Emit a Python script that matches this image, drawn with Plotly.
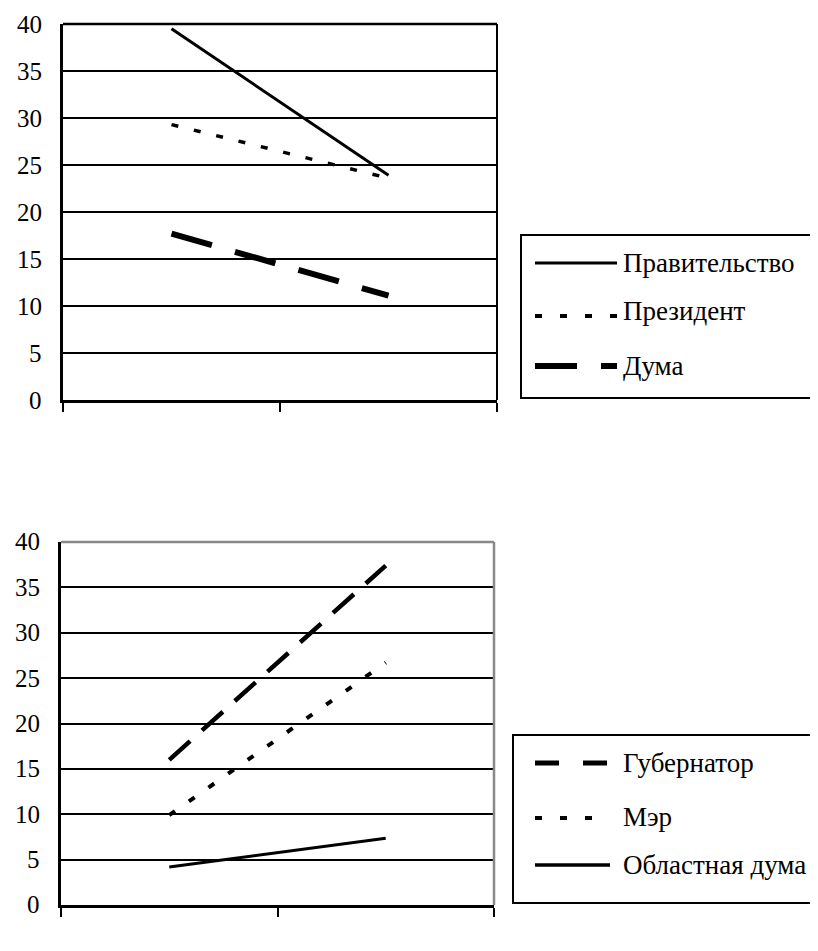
import plotly.graph_objects as go

years = ["1995", "1999"]

# top chart
top_names = ["Правительство", "Президент", "Дума"]
pravitelstvo = [39.5, 23.9]
prezident = [29.3, 23.6]
duma = [17.7, 11.1]

# bottom chart
bottom_names = ["Губернатор", "Мэр", "Областная дума"]
gubernator = [16.0, 37.4]
mer = [9.9, 26.7]
obl_duma = [4.2, 7.35]

y_ticks = [0, 5, 10, 15, 20, 25, 30, 35, 40]

FONT = "Liberation Serif"

# line styles (width, dash)
styles_top = [(3, "solid"), (3.5, "7px,16px"), (6, "42px,24px")]
styles_bot = [(4.5, "28px,16px"), (4, "7px,17px"), (3, "solid")]
legend_styles_top = [(3, "solid"), (4, "7px,18px"), (6, "42px,24px")]
legend_styles_bot = [(5, "24px,24px"), (4, "7px,18px"), (3.5, "solid")]

fig = go.Figure()

for name, vals, (w, d) in zip(top_names, [pravitelstvo, prezident, duma], styles_top):
    fig.add_trace(go.Scatter(x=years, y=vals, name=name, mode="lines", showlegend=False,
                             line=dict(color="black", width=w, dash=d), xaxis="x", yaxis="y"))
for name, vals, (w, d) in zip(bottom_names, [gubernator, mer, obl_duma], styles_bot):
    fig.add_trace(go.Scatter(x=years, y=vals, name=name, mode="lines", showlegend=False,
                             line=dict(color="black", width=w, dash=d), xaxis="x2", yaxis="y2"))

OFF = 8  # page body margin
W, H = 818 - OFF, 951 - OFF
ml, mr, mt, mb = 61 - OFF, 818 - 497, 24 - OFF, 951 - 905
pw = W - ml - mr
ph = H - mt - mb


def fx(px):
    return (px - OFF - ml) / pw


def fy(py):
    return (H - mb - (py - OFF)) / ph


xcommon = dict(type="category", range=[-0.5, 1.5], tickson="boundaries",
               showline=True, linecolor="black", linewidth=3,
               ticks="outside", ticklen=9, tickwidth=2, tickcolor="black",
               showgrid=False, zeroline=False, automargin=False,
               showticklabels=False)
ycommon = dict(range=[0, 40], tickvals=y_ticks, showline=True, linecolor="black",
               linewidth=2.5, showgrid=True, gridcolor="black", gridwidth=1.8,
               zeroline=False, ticks="", automargin=False, showticklabels=False)

shapes = [
    dict(type="line", xref="x domain", yref="y domain", x0=0, x1=1, y0=1, y1=1,
         line=dict(color="black", width=2.5)),
    dict(type="line", xref="x domain", yref="y domain", x0=1, x1=1, y0=0, y1=1,
         line=dict(color="black", width=2)),
    dict(type="line", xref="x2 domain", yref="y2 domain", x0=0, x1=1, y0=1, y1=1,
         line=dict(color="#888888", width=2.5)),
    dict(type="line", xref="x2 domain", yref="y2 domain", x0=1, x1=1, y0=0, y1=1,
         line=dict(color="#888888", width=2.5)),
]

annotations = []
tick_font = dict(family=FONT, size=25, color="black")

# axis tick labels (positioned through the axes)
for xa, ya in [("x", "y"), ("x2", "y2")]:
    for v in y_ticks:
        annotations.append(dict(xref=xa + " domain", x=0, yref=ya, y=v, text=str(v),
                                xanchor="right", yanchor="middle", xshift=-19,
                                showarrow=False, font=tick_font))
    for yr in years:
        annotations.append(dict(xref=xa, x=yr, yref=ya + " domain", y=0, text=yr,
                                xanchor="center", yanchor="middle", yshift=-37,
                                showarrow=False, font=tick_font))

# legends: boxes, line samples and names
legend_font = dict(family=FONT, size=27, color="black")


def add_legend(box, names, styles, line_ys, text_ys, line_x, text_x):
    shapes.append(dict(type="rect", xref="paper", yref="paper",
                       x0=fx(box[0]), x1=fx(box[1]), y0=fy(box[3]), y1=fy(box[2]),
                       line=dict(color="black", width=2), fillcolor="white"))
    for name, (w, d), ly, ty in zip(names, styles, line_ys, text_ys):
        shapes.append(dict(type="line", xref="paper", yref="paper",
                           x0=fx(line_x[0]), x1=fx(line_x[1]), y0=fy(ly), y1=fy(ly),
                           line=dict(color="black", width=w, dash=d)))
        annotations.append(dict(xref="paper", yref="paper", x=fx(text_x), y=fy(ty),
                                text=name, xanchor="left", yanchor="middle",
                                showarrow=False, font=legend_font))


add_legend((521, 832, 235, 398), top_names, legend_styles_top,
           [263, 316, 366], [263, 311, 366], (535, 617), 621)
add_legend((513, 832, 735, 903), bottom_names, legend_styles_bot,
           [763, 818, 865], [763, 817, 865], (535, 610), 621)

fig.update_layout(
    template="none",
    width=W, height=H,
    font=dict(family=FONT, color="black", size=25),
    margin=dict(l=ml, r=mr, t=mt, b=mb, autoexpand=False),
    paper_bgcolor="white", plot_bgcolor="white",
    showlegend=False,
    xaxis=dict(xcommon, domain=[fx(63), fx(497)], anchor="y"),
    yaxis=dict(ycommon, domain=[fy(400), fy(24)], anchor="x"),
    xaxis2=dict(xcommon, domain=[fx(61), fx(494)], anchor="y2"),
    yaxis2=dict(ycommon, domain=[fy(905), fy(542)], anchor="x2"),
    shapes=shapes,
    annotations=annotations,
)

fig.write_html("out.html")
